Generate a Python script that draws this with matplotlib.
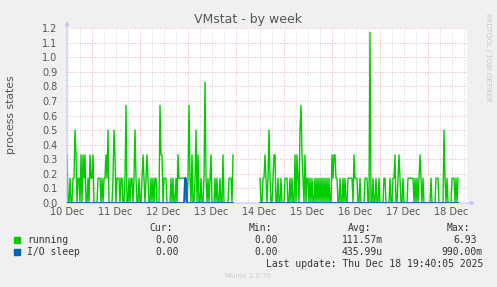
import numpy as np
import matplotlib.pyplot as plt

nan = np.nan

# first sample: Thu Dec 10 11:40, one sample every 30 minutes
start = 10 + 11 / 24 + 40 / 1440

running = [
    .33, 0, 0, .17, 0, 0, .17, .17, .5, .33,
    0, .17, .17, 0, .33, 0, .33, .17, .33, 0,
    0, .17, 0, .33, .17, .17, .33, 0, 0, 0,
    0, .17, .17, .17, 0, .17, 0, .17, .17, .33,
    .17, .5, 0, 0, 0, 0, .17, .5, .33, 0,
    .17, .17, .17, 0, .17, .17, 0,
    0, .17, .67, 0, 0, .17, 0, .17, .17, 0,
    .17, .5, .17, 0, 0, .17, 0, 0, .17, .33,
    .17, 0, .17, .33, .17, 0, 0, .17, 0, .17,
    0, .17, .17, 0, 0, 0, .67, .33, .33, 0,
    .17, .17, .17, 0, 0, 0, 0, .17, 0, .17,
    0, 0, .17, 0, .33, .17, .17, .17,
    .17, .17, .17, .17, 0, 0, .17, .67, .17, 0,
    .33, 0, 0, .17, .5, 0, .33, 0, 0, .17,
    0, 0, .17, .83, .17, 0, .17, 0, .17, .33,
    0, 0, 0, .17, 0, .17, 0, 0, .17, 0,
    0, .33, 0, 0, 0, 0, 0, .17, .17, .17,
    0, .33,
    nan, nan, nan, nan, nan, nan, nan, nan, nan, nan,
    nan, nan, nan, nan, nan, nan, nan, nan, nan, nan,
    nan, nan, nan, nan, nan, nan,
    .17, 0, 0, .17, .17, .33, .17, 0, .17, .5,
    .17, 0, 0, .17, .33, .33, 0, 0, .17, 0,
    0, .17, 0, 0, 0, .17, .17, .17, 0, 0,
    .17, 0, .17, 0, 0, .33, 0, .33,
    .17, 0, .5, .67, .33, .17, 0, .33, 0, .17,
    .17, 0, .17, 0, .17, 0, 0, .17, 0, .17,
    0, .17, 0, .17, 0, .17, 0, .17, 0, .17,
    0, .17, 0, 0, .33, .17, .33, .33, .17, .17,
    0, 0, .17, 0, 0, .17, 0, .17, 0, 0,
    .17, .17, .17, .17, .17, 0, .33, .17,
    .17, .17, 0, 0, .17, 0, 0, 0, 0, .17,
    .17, .17, 0, 0, 1.17, 0, 0, .17, 0, 0,
    .17, 0, 0, .17, 0, 0, 0, 0, .17, .17,
    0, 0, 0, 0, .17, 0, 0, .17, .17, .33,
    0, 0, .17, .33, .17, 0, 0, .17, 0, 0,
    0, 0, .17, .17, .17, .17, .17, .17,
    0, .17, 0, .17, 0, .17, .33, .17, 0, .17,
    0, 0, 0, 0, 0, 0, 0, .17, 0, 0,
    0, 0, .17, .17, .17, 0, 0, 0, 0, 0,
    .5, .17, 0, .17, 0, 0, 0, 0, .17, .17,
    .17, 0, .17, 0, .17,
    nan, nan, nan, nan, nan, nan, nan, nan,
]

io_sleep = [0] * 118 + [.17, .17] + [0] * 47 + [nan] * 26 + [0] * 199 + [nan] * 8

day_labels = ['10 Dec', '11 Dec', '12 Dec', '13 Dec', '14 Dec',
              '15 Dec', '16 Dec', '17 Dec', '18 Dec']
y_ticks = [0.0, 0.1, 0.2, 0.3, 0.4, 0.5, 0.6, 0.7, 0.8, 0.9, 1.0, 1.1, 1.2]

legend_names = ['running', 'I/O sleep']
legend_colors = ['#00CC00', '#0066B3']
cur_vals = ['0.00', '0.00']
min_vals = ['0.00', '0.00']
avg_vals = ['111.57m', '435.99u']
max_vals = ['6.93', '990.00m']

W, H = 497, 287
fig = plt.figure(figsize=(W / 100, H / 100), dpi=100, facecolor='#F0F0F0')
ax = fig.add_axes([67 / W, 1 - 203 / H, 400 / W, 175 / H])
ax.set_facecolor('white')

x = start + np.arange(len(running)) / 48
x_end = start + 400 / 48
ax.set_xlim(start, x_end)
ax.set_ylim(0, 1.2)

# grid: grey dotted every 6h, red dotted at midnight and every 0.1
for d in np.arange(10.5, x_end, 0.25):
    if abs(d - round(d)) > 0.01:
        ax.axvline(d, color='#c8c8c8', lw=0.6, ls=(0, (1, 2)), zorder=1)
for d in range(11, 19):
    ax.axvline(d, color='#e89898', lw=0.6, ls=(0, (1, 2)), zorder=1)
for yv in y_ticks[1:]:
    ax.axhline(yv, color='#e89898', lw=0.6, ls=(0, (1, 2)), zorder=1)

ax.plot(x, running, color=legend_colors[0], lw=1, zorder=3)
ax.plot(x, io_sleep, color=legend_colors[1], lw=1.3, zorder=4)

for s in ax.spines.values():
    s.set_visible(False)
axis_col = '#c4c8f0'
ax.annotate('', xy=(0, 1.04), xytext=(0, 0), xycoords='axes fraction',
            arrowprops=dict(arrowstyle='-|>', color=axis_col, lw=0.8,
                            mutation_scale=6, shrinkA=0, shrinkB=0))
ax.annotate('', xy=(1.02, 0), xytext=(0, 0), xycoords='axes fraction',
            arrowprops=dict(arrowstyle='-|>', color=axis_col, lw=0.8,
                            mutation_scale=6, shrinkA=0, shrinkB=0))

ax.set_xticks([d + 0.5 for d in range(10, 19)])
ax.set_xticklabels(day_labels)
ax.set_yticks(y_ticks)
ax.set_yticklabels(['%.1f' % v for v in y_ticks])
ax.tick_params(length=0, labelsize=7, colors='#555555', pad=3)
ax.tick_params(axis='y', pad=7)

fig.text(248 / W, 1 - 19 / H, 'VMstat - by week', ha='center', va='center',
         fontsize=9, color='#555555')
fig.text(11 / W, 1 - 115 / H, 'process states', rotation=90, ha='center',
         va='center', fontsize=7.8, color='#555555')
fig.text(488 / W, 1 - 57 / H, 'RRDTOOL / TOBI OETIKER', rotation=270,
         ha='center', va='center', fontsize=5, color='#c8c8c8')
fig.text(248 / W, 1 - 276 / H, 'Munin 2.0.76', ha='center', va='center',
         fontsize=5, color='#cccccc')


def px_text(xp, yp, s, ha='right'):
    fig.text(xp / W, 1 - yp / H, s, ha=ha, va='center', fontsize=7,
             family='DejaVu Sans Mono', color='#333333')


px_text(173, 228, 'Cur:')
px_text(272, 228, 'Min:')
px_text(371, 228, 'Avg:')
px_text(470, 228, 'Max:')
for r, yp in enumerate([240, 252]):
    fig.patches.append(plt.Rectangle((14 / W, 1 - (yp + 3) / H), 6 / W, 6 / H,
                                     transform=fig.transFigure,
                                     color=legend_colors[r]))
    px_text(27, yp, legend_names[r], ha='left')
    px_text(179, yp, cur_vals[r])
    px_text(278, yp, min_vals[r])
    px_text(383, yp, avg_vals[r])
    px_text(483 if r else 477, yp, max_vals[r])
px_text(483, 264, 'Last update: Thu Dec 18 19:40:05 2025')

fig.savefig('out.png', dpi=100, facecolor=fig.get_facecolor())
